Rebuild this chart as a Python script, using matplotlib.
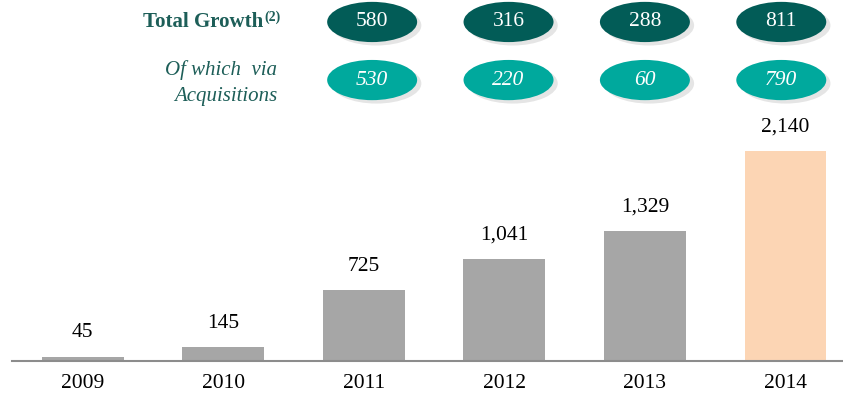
import numpy as np
import matplotlib.pyplot as plt
from matplotlib.patches import Ellipse

years = ['2009', '2010', '2011', '2012', '2013', '2014']
totals = [45, 145, 725, 1041, 1329, 2140]
growth = [580, 316, 288, 811]
via_acq = [530, 220, 60, 790]

serif = 'Liberation Serif'
dark = '#025c57'
light = '#00a99d'
label_col = '#1d5e58'

fig = plt.figure(figsize=(8.43, 3.96), dpi=100)
ax = fig.add_axes([0, 0, 1, 1])
ax.set_xlim(-0.587, 5.409)
ax.set_ylim(-357, 3680)
ax.axis('off')

x = np.arange(len(years))
colors = ['#a6a6a6'] * 5 + ['#fcd5b4']
ax.bar(x, totals, width=0.583, color=colors, zorder=2)
ax.axhline(0, xmin=12 / 843, xmax=1, color='#8c8c8c', lw=1.5, zorder=3)

for xi, v in zip(x, totals):
    ax.annotate(f'{v:,}', (xi, v), xytext=(0, 17), textcoords='offset points',
                ha='center', va='center', fontsize=15.5, family=serif)
for xi, yr in zip(x, years):
    ax.text(xi, -225, yr, ha='center', va='center', fontsize=15.5, family=serif)

# growth ovals over the last four years, spaced a touch tighter than the bars
ox = 2.06 + (x[2:] - 2) * 0.97
ew, eh = 0.64, 410
rows = [(3456, growth, dark, 'normal'), (2864, via_acq, light, 'italic')]
for yc, vals, col, style in rows:
    for xi, v in zip(ox, vals):
        ax.add_patch(Ellipse((xi + 0.03, yc - 35), ew, eh, color='#000000',
                             alpha=0.10, lw=0, zorder=1))
        ax.add_patch(Ellipse((xi, yc), ew, eh, color=col, lw=0, zorder=2))
        ax.text(xi, yc, str(v), ha='center', va='center', color='white',
                fontsize=15.5, family=serif, style=style, zorder=3)

fig.text(263 / 843, 1 - 22 / 396, 'Total Growth', ha='right', va='center',
         fontsize=15, fontweight='bold', family=serif, color=label_col)
fig.text(264 / 843, 1 - 17 / 396, '(2)', ha='left', va='center',
         fontsize=10, fontweight='bold', family=serif, color=label_col)
fig.text(277 / 843, 1 - 70 / 396, 'Of which  via', ha='right', va='center',
         fontsize=15, style='italic', family=serif, color=label_col)
fig.text(277 / 843, 1 - 96 / 396, 'Acquisitions', ha='right', va='center',
         fontsize=15, style='italic', family=serif, color=label_col)

fig.savefig('out.png', dpi=100)
